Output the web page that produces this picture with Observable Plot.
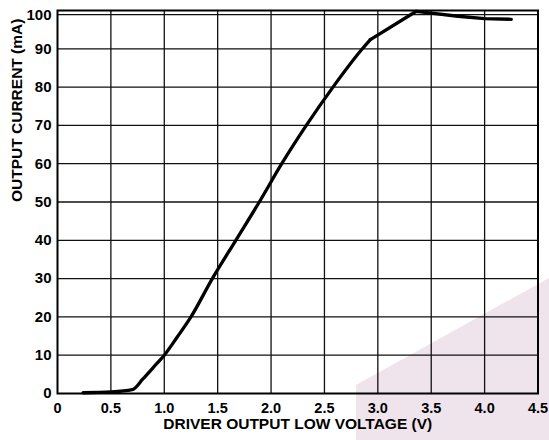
<!DOCTYPE html>
<html><head><meta charset="utf-8">
<script src="https://cdn.jsdelivr.net/npm/d3@7"></script>
<script src="https://cdn.jsdelivr.net/npm/@observablehq/plot@0.6"></script>
<style>
body{margin:0;background:#fff;}
#wrap{position:relative;width:549px;height:440px;overflow:hidden;}
#shade{position:absolute;left:0;top:0;width:549px;height:440px;background:#efe4ec;clip-path:polygon(356px 385px,549px 278px,549px 440px,356px 440px);}
#chart{position:absolute;left:0;top:0;}
</style></head><body>
<div id="wrap"><div id="shade"></div><div id="chart"></div></div>
<script>
const voltage = [0.24, 0.5, 0.70, 0.80, 0.90, 1.0, 1.12, 1.25, 1.45, 1.67, 1.89, 2.10, 2.33, 2.58, 2.855, 2.93, 3.36, 3.50, 3.75, 4.0, 4.25];
const current = [0.2, 0.4, 1.0, 3.8, 6.9, 10, 14.7, 20, 30, 40, 50, 60, 70, 80, 90, 92.4, 99.8, 99.3, 98.5, 97.9, 97.7];
const kneeVoltage = 2.93;
const xTicks = [0, 0.5, 1.0, 1.5, 2.0, 2.5, 3.0, 3.5, 4.0, 4.5];
const yTicks = [0, 10, 20, 30, 40, 50, 60, 70, 80, 90];
const yTopTick = [100];
const extraGrid = [98.9];
const xLabel = "DRIVER OUTPUT LOW VOLTAGE (V)";
const yLabel = "OUTPUT CURRENT (mA)";

const data = voltage.map((v, i) => ({v, c: current[i]}));
const lower = data.filter(d => d.v <= kneeVoltage);
const upper = data.filter(d => d.v >= kneeVoltage);
const font = "'Liberation Sans', Arial, Helvetica, sans-serif";

const chart = Plot.plot({
  width: 549, height: 440,
  marginLeft: 57, marginRight: 11.5, marginTop: 10, marginBottom: 47,
  style: {background: "transparent", fontFamily: font, fontSize: "15px", fontWeight: "bold", color: "#000"},
  x: {domain: [0, 4.5]},
  y: {domain: [0, 100]},
  marks: [
    Plot.gridX(xTicks.slice(1, -1), {stroke: "#111", strokeOpacity: 1, strokeWidth: 1.3}),
    Plot.gridY(yTicks.slice(1), {stroke: "#111", strokeOpacity: 1, strokeWidth: 1.3}),
    Plot.gridY(extraGrid, {stroke: "#111", strokeOpacity: 1, strokeWidth: 1.3}),
    Plot.frame({stroke: "#000", strokeWidth: 2}),
    Plot.line(lower, {x: "v", y: "c", stroke: "#000", strokeWidth: 3.3, strokeLinejoin: "round", curve: "monotone-x"}),
    Plot.line(upper, {x: "v", y: "c", stroke: "#000", strokeWidth: 3.3, strokeLinejoin: "round", curve: "linear"}),
    Plot.axisX(xTicks, {tickSize: 0, tickPadding: 9, tickFormat: d => d === 0 ? "0" : d.toFixed(1), label: null, fill: "#000", fontSize: 14.5}),
    Plot.axisY(yTicks, {tickSize: 0, tickPadding: 6, label: null, fill: "#000", fontSize: 15}),
    Plot.axisY(yTopTick, {tickSize: 0, tickPadding: 6, dy: 4.7, label: null, fill: "#000", fontSize: 15}),
    Plot.text([xLabel], {frameAnchor: "bottom", lineAnchor: "middle", dy: 31, text: d => d, fontSize: 15.5, fontWeight: "bold", fill: "#000"}),
    Plot.text([yLabel], {frameAnchor: "left", lineAnchor: "middle", dx: -40.7, rotate: -90, text: d => d, fontSize: 15.5, fontWeight: "bold", fill: "#000"})
  ]
});
document.getElementById("chart").appendChild(chart);
</script>
</body></html>
